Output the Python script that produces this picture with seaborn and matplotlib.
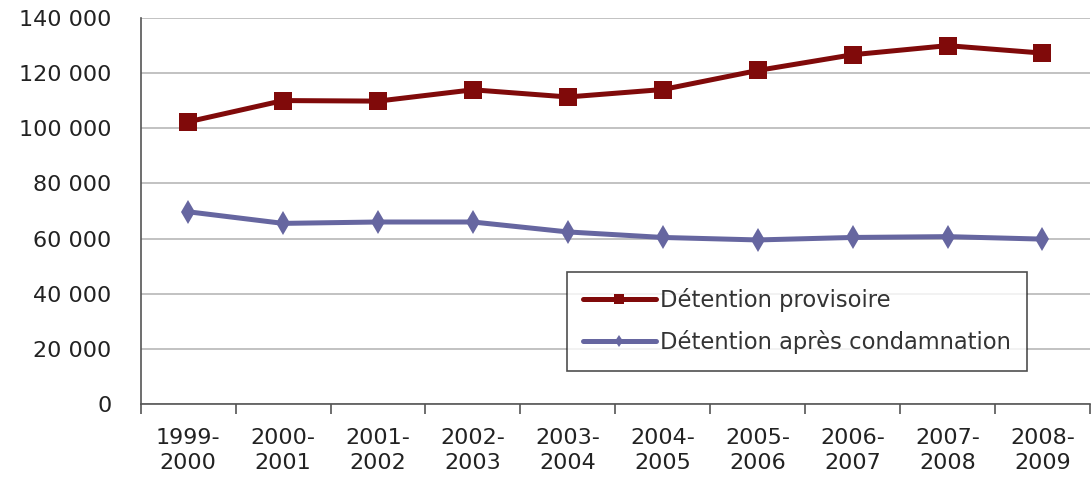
import matplotlib
matplotlib.use("Agg")
import matplotlib.pyplot as plt
import seaborn as sns
import pandas as pd

periods = ["1999-\n2000", "2000-\n2001", "2001-\n2002", "2002-\n2003", "2003-\n2004",
           "2004-\n2005", "2005-\n2006", "2006-\n2007", "2007-\n2008", "2008-\n2009"]
provisoire = [102300, 110000, 109800, 113900, 111300, 114000, 120900, 126600, 129900, 127200]
condamnation = [69700, 65500, 66000, 66000, 62400, 60400, 59500, 60400, 60700, 59800]
series_names = ["Détention provisoire", "Détention après condamnation"]
yticks = [0, 20000, 40000, 60000, 80000, 100000, 120000, 140000]

sns.set_theme(style="white")
plt.rcParams['font.family'] = ['DejaVu Sans']

fig = plt.figure(figsize=(10.91, 4.8), dpi=100)
ax = fig.add_axes([0.129, 0.158, 0.870, 0.805])

df1 = pd.DataFrame({"period": periods, "value": provisoire})
df2 = pd.DataFrame({"period": periods, "value": condamnation})

sns.lineplot(data=df1, x="period", y="value", ax=ax, color="#800A0A", linewidth=3.6,
             marker="s", markersize=12.5, markeredgewidth=0, label=series_names[0], sort=False)
sns.lineplot(data=df2, x="period", y="value", ax=ax, color="#6666A0", linewidth=3.6,
             marker="d", markersize=12, markeredgewidth=0, label=series_names[1], sort=False)

ax.set_xlim(-0.5, 9.5)
ax.set_ylim(0, 140000)
ax.set_yticks(yticks)
ax.set_yticklabels([f"{v:,}".replace(",", " ") for v in yticks])
ax.grid(axis="y", color="#b8b8b8", linewidth=1.2)
ax.set_axisbelow(True)
ax.set_xlabel("")
ax.set_ylabel("")

for s in ["top", "right"]:
    ax.spines[s].set_visible(False)
for s in ["left", "bottom"]:
    ax.spines[s].set_color("#555555")
    ax.spines[s].set_linewidth(1.2)

ax.set_xticks(range(len(periods)))
ax.set_xticklabels(periods)
ax.set_xticks([i - 0.5 for i in range(len(periods) + 1)], minor=True)
ax.tick_params(axis="x", which="major", length=0, pad=17, labelsize=16, labelcolor="#222222")
ax.tick_params(axis="x", which="minor", bottom=True, length=7, width=1.2, color="#555555")
ax.tick_params(axis="y", which="major", left=False, length=0, pad=21, labelsize=16, labelcolor="#222222")
for lbl in ax.get_xticklabels():
    lbl.set_linespacing(1.35)

leg = ax.legend(loc="upper left", bbox_to_anchor=(0.449, 0.342), borderaxespad=0,
                frameon=True, fancybox=False,
                edgecolor="#222222", fontsize=16.3, handlelength=3.2, handletextpad=0.2,
                borderpad=0.72, labelspacing=0.8, markerscale=0.55)
leg.get_frame().set_linewidth(1.2)
for t in leg.get_texts():
    t.set_color("#333333")

fig.savefig("out.png", dpi=100, facecolor="white")
